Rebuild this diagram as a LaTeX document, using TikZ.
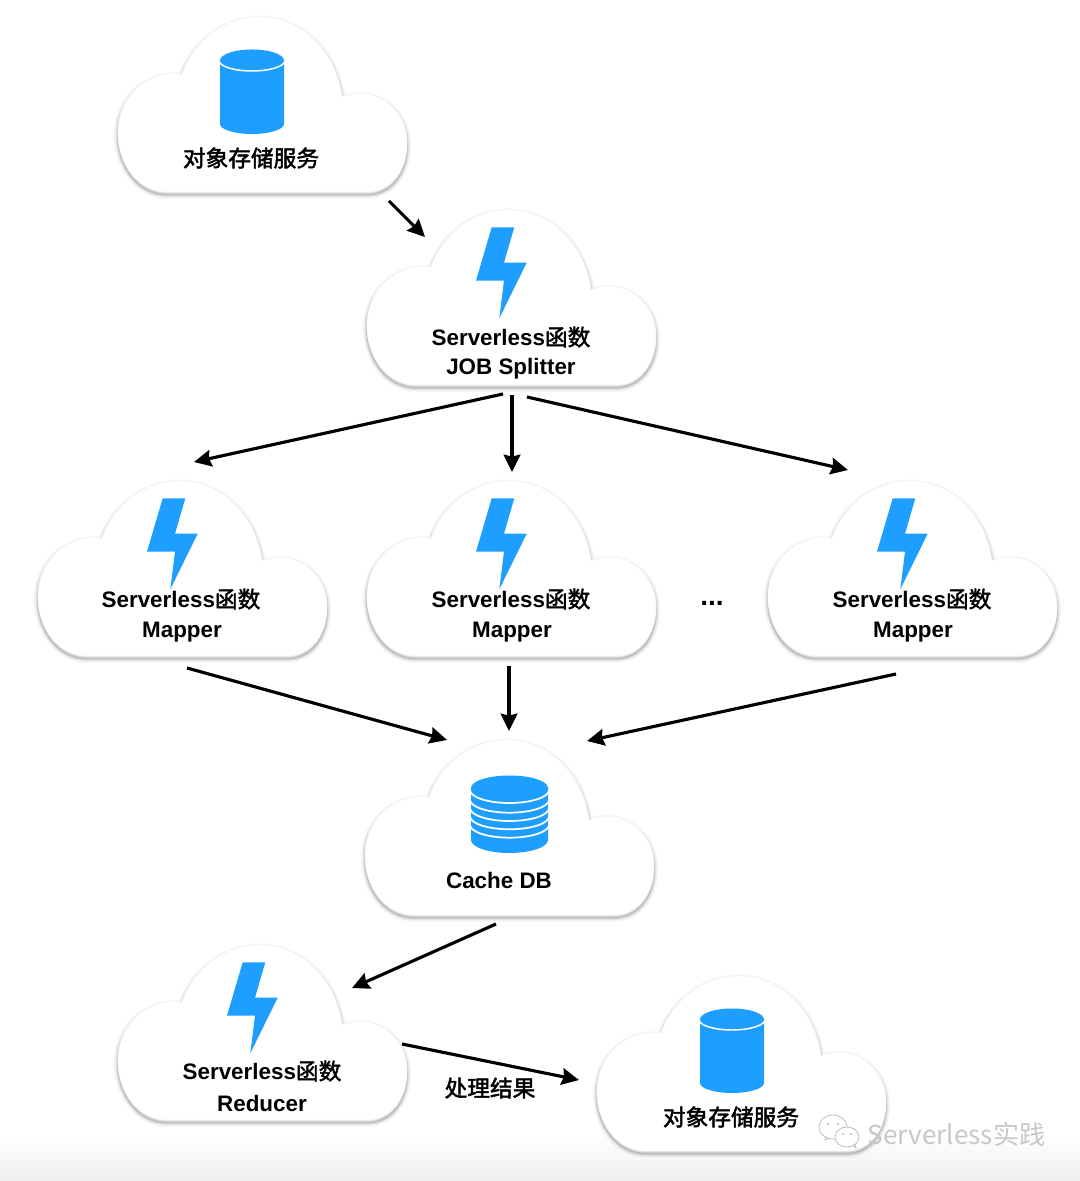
\documentclass[tikz,border=0pt]{standalone}
\usepackage{fontspec}
\setmainfont{Liberation Sans}
\newfontfamily\cjk{Noto Sans CJK SC}
\usetikzlibrary{arrows.meta}
\definecolor{iconblue}{HTML}{1E9FFF}
\newcommand{\cloudshape}{(49,0) .. controls (20,0) and (0,28) .. (0,59) .. controls (0,95) and (28,122) .. (64,118) .. controls (75,150) and (105,175) .. (142,175) .. controls (185,175) and (218,140) .. (224,95) .. controls (255,108) and (289,85) .. (289,49) .. controls (289,20) and (272,0) .. (249,0) -- cycle}
\tikzset{
  flow/.style={line width=2.35pt,-{Stealth[length=13pt,width=12.5pt,inset=1.5pt]},black},
  label/.style={inner sep=0pt,font=\fontsize{16.8}{20}\selectfont\bfseries,text=black},
  blueicon/.style={fill=iconblue,draw=none},
  cloudpic/.pic={
    \foreach \w/\o in {9/0.02,7/0.03,5/0.05,3/0.07,1.5/0.09}{
      \draw[black,opacity=\o,line width=\w*0.75pt,yshift=-2pt] \cloudshape;
    }
    \fill[white] \cloudshape;
    \draw[black!3,line width=0.5pt] \cloudshape;
  },
  boltpic/.pic={
    \fill[blueicon] (124.7,157.7) -- (147.3,157.7) -- (137,122.3) -- (159.7,122.3) -- (132.3,66.7) -- (137,104.3) -- (109,104.3) -- cycle;
  }
}
\newcommand{\cjkb}[1]{{\fontsize{17}{20}\selectfont\mdseries\cjk\special{pdf:code q 2 Tr 0.35 w}#1\special{pdf:code Q 0 Tr}}}
\begin{document}
\begin{tikzpicture}[x=0.75pt,y=0.75pt]
\useasboundingbox (0,0) rectangle (1080,1181);
\fill[white] (0,0) rectangle (1080,1181);
\shade[top color=white,bottom color=black!6] (0,48) rectangle (1080,0);
% clouds; local frame: origin at lower left, y up
\begin{scope}[shift={(118,989)}] \pic {cloudpic}; \end{scope}
\begin{scope}[shift={(367,796)}] \pic {cloudpic}; \pic {boltpic}; \end{scope}
\begin{scope}[shift={(38,525)}] \pic {cloudpic}; \pic {boltpic}; \end{scope}
\begin{scope}[shift={(367,525)}] \pic {cloudpic}; \pic {boltpic}; \end{scope}
\begin{scope}[shift={(768,525)}] \pic {cloudpic}; \pic {boltpic}; \end{scope}
\begin{scope}[shift={(365,266)}] \pic {cloudpic}; \end{scope}
\begin{scope}[shift={(118,61)}] \pic {cloudpic}; \pic {boltpic}; \end{scope}
\begin{scope}[shift={(597,30)}] \pic {cloudpic}; \end{scope}
% cylinders
\foreach \ox/\oy [count=\i] in {220/1181,700/222}{
  \begin{scope}[shift={(\ox,\oy)}]
    \fill[iconblue] (0,-60.5) -- (0,-124) arc[start angle=180,end angle=360,x radius=32,y radius=10] -- (64,-60.5) arc[start angle=0,end angle=180,x radius=32,y radius=11] -- cycle;
    \draw[white,line width=1.1pt] (-1,-60.5) arc[start angle=180,end angle=360,x radius=33,y radius=10.5];
  \end{scope}
}
% cache stack
\begin{scope}[shift={(471,393)}]
  \fill[iconblue] (0,0) -- (0,-52) arc[start angle=180,end angle=360,x radius=38.5,y radius=13] -- (77,0) arc[start angle=0,end angle=180,x radius=38.5,y radius=12.5] -- cycle;
  \foreach \y in {-2,-11.7,-20,-28.3,-36.7}{
    \draw[white,line width=1.3pt] (-1,\y) arc[start angle=180,end angle=360,x radius=39.5,y radius=13];
  }
\end{scope}
% labels
\node[label] (store1) at (251,1023) {\cjkb{对象存储服务}};
\node[label] (split1) at (511,844) {Serverless\cjkb{函数}};
\node[label] (split2) at (511,812) {JOB Splitter};
\node[label] (map1a) at (181,582) {Serverless\cjkb{函数}};
\node[label] (map1b) at (182,549) {Mapper};
\node[label] (map2a) at (511,582) {Serverless\cjkb{函数}};
\node[label] (map2b) at (512,549) {Mapper};
\node[label,font=\fontsize{21}{24}\selectfont\bfseries] (dots) at (712,578) {...};
\node[label] (map3a) at (912,582) {Serverless\cjkb{函数}};
\node[label] (map3b) at (913,549) {Mapper};
\node[label] (cache) at (499,301) {Cache DB};
\node[label] (red1) at (262,110) {Serverless\cjkb{函数}};
\node[label] (red2) at (262,78) {Reducer};
\node[label] (proc) at (490,93) {\cjkb{处理结果}};
\node[label] (store2) at (731,64) {\cjkb{对象存储服务}};
% arrow ends
\coordinate (a1s) at (389,980); \coordinate (a1e) at (425,944);
\coordinate (a2s) at (503,787); \coordinate (a2e) at (194,719);
\coordinate (a3s) at (512,786); \coordinate (a3e) at (512,709);
\coordinate (a4s) at (527,784); \coordinate (a4e) at (848,711);
\coordinate (a5s) at (187,513); \coordinate (a5e) at (447,441);
\coordinate (a6s) at (509,515); \coordinate (a6e) at (509,450);
\coordinate (a7s) at (896,507); \coordinate (a7e) at (587,440);
\coordinate (a8s) at (496,257); \coordinate (a8e) at (352,193);
\coordinate (a9s) at (402,137); \coordinate (a9e) at (579,101);
\foreach \i in {1,...,9}{ \draw[flow] (a\i s) -- (a\i e); }
% watermark
\begin{scope}[draw=black!25,fill=white,line width=0.6pt]
  \filldraw (826,47) -- (825,41) -- (833,44) -- cycle;
  \filldraw (833,54) ellipse[x radius=14,y radius=12];
  \filldraw (852,37) -- (856,33) -- (855,41) -- cycle;
  \filldraw (847,44) ellipse[x radius=12,y radius=10];
\end{scope}
\fill[black!30] (828,57) circle (1.1) (838,57) circle (1.1) (843,47) circle (1) (851,47) circle (1);
\node[inner sep=0pt,text=black!22,font=\fontsize{19.6}{22}\selectfont\cjk] (mark) at (956.5,47) {Serverless实践};
\end{tikzpicture}
\end{document}
